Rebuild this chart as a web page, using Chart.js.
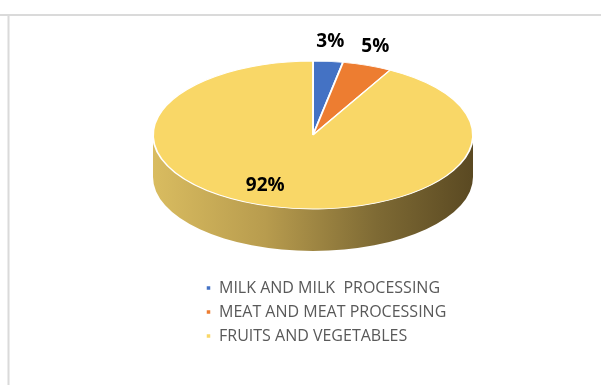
<!DOCTYPE html>
<html>
<head>
<meta charset="utf-8">
<script src="https://cdn.jsdelivr.net/npm/chart.js@4.4.0/dist/chart.umd.min.js"></script>
<style>
  html, body { margin: 0; padding: 0; background: #fff; }
  #wrap { width: 601px; height: 385px; }
</style>
</head>
<body>
<div id="wrap"><canvas id="chart"></canvas></div>
<script>
const categories = ['MILK AND MILK  PROCESSING', 'MEAT AND MEAT PROCESSING', 'FRUITS AND VEGETABLES'];
const shares = [3, 5, 92];
const sliceColors = ['#4472C4', '#ED7D31', '#F9D767'];

// where the flattened (3d-looking) pie sits on the page
const pieCX = 313, pieCY = 135, pieRX = 160, pieRY = 74, pieDepth = 42;

Chart.defaults.font.family = "'Open Sans', sans-serif";

// gray frame lines like the cropped sheet
const framePlugin = {
    id: 'frame',
    beforeDraw(chart) {
        const ctx = chart.ctx;
        ctx.save();
        ctx.fillStyle = '#fff';
        ctx.fillRect(0, 0, chart.width, chart.height);
        ctx.strokeStyle = '#DADADA';
        ctx.lineWidth = 2;
        ctx.beginPath();
        ctx.moveTo(0, 15);
        ctx.lineTo(chart.width, 15);
        ctx.moveTo(8.5, 15);
        ctx.lineTo(8.5, chart.height);
        ctx.stroke();
        ctx.restore();
    }
};

// squash the pie into an ellipse and give it a side wall
const tiltPlugin = {
    id: 'tilt',
    beforeDatasetsDraw(chart) {
        const ctx = chart.ctx;
        const arc = chart.getDatasetMeta(0).data[0];
        const {x, y, outerRadius} = arc.getProps(['x', 'y', 'outerRadius'], true);

        ctx.save();
        const g = ctx.createLinearGradient(pieCX - pieRX, 0, pieCX + pieRX, 0);
        g.addColorStop(0, '#D9BC60');
        g.addColorStop(0.35, '#B89C4E');
        g.addColorStop(0.7, '#7E6A34');
        g.addColorStop(1, '#5A4922');
        ctx.fillStyle = g;
        ctx.beginPath();
        ctx.ellipse(pieCX, pieCY, pieRX, pieRY, 0, 0, Math.PI);
        ctx.ellipse(pieCX, pieCY + pieDepth, pieRX, pieRY, 0, Math.PI, 0, true);
        ctx.closePath();
        ctx.fill();

        ctx.translate(pieCX, pieCY);
        ctx.scale(pieRX / outerRadius, pieRY / outerRadius);
        ctx.translate(-x, -y);
    },
    afterDatasetsDraw(chart) {
        const ctx = chart.ctx;
        ctx.restore();

        const total = shares.reduce((a, b) => a + b, 0);
        ctx.save();
        ctx.fillStyle = '#000';
        ctx.font = "bold 19px 'Open Sans', sans-serif";
        ctx.textAlign = 'center';
        ctx.textBaseline = 'middle';
        chart.getDatasetMeta(0).data.forEach((arc, i) => {
            const {startAngle, endAngle} = arc.getProps(['startAngle', 'endAngle'], true);
            const mid = (startAngle + endAngle) / 2;
            const c = Math.cos(mid), s = Math.sin(mid);
            let lx, ly;
            if (shares[i] / total < 0.2) {
                // outside end
                lx = pieCX + pieRX * c + c * 24;
                ly = pieCY + pieRY * s + s * 20;
            } else {
                // best fit, pushed a bit to the left like excel does
                lx = pieCX + pieRX * c * 1.2;
                ly = pieCY + pieRY * s * 0.7;
            }
            ctx.fillText(Math.round(shares[i] / total * 100) + '%', lx, ly);
        });
        ctx.restore();
    }
};

new Chart(document.getElementById('chart'), {
    type: 'pie',
    data: {
        labels: categories,
        datasets: [{
            data: shares,
            backgroundColor: sliceColors,
            borderColor: '#fff',
            borderWidth: 1.5,
            hoverOffset: 0,
            clip: false
        }]
    },
    options: {
        responsive: true,
        maintainAspectRatio: false,
        animation: false,
        events: [],
        layout: { padding: { left: 198, right: 20, top: 20, bottom: 31 } },
        plugins: {
            tooltip: { enabled: false },
            legend: {
                position: 'bottom',
                align: 'start',
                labels: {
                    boxWidth: 5,
                    boxHeight: 5,
                    padding: 8,
                    color: '#595959',
                    font: { size: 16 }
                }
            }
        }
    },
    plugins: [framePlugin, tiltPlugin]
});
</script>
</body>
</html>
